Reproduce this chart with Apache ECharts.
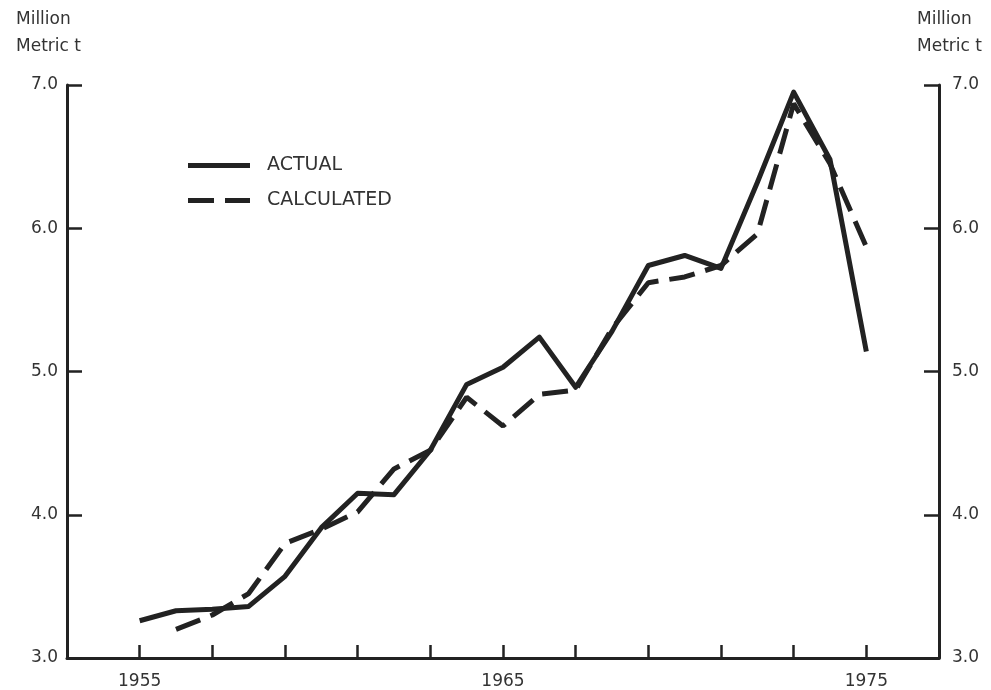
<!DOCTYPE html>
<html>
<head>
<meta charset="utf-8">
<script src="https://cdn.jsdelivr.net/npm/echarts@6/dist/echarts.min.js"></script>
<style>
html,body{margin:0;padding:0;background:#fff;}
#chart{width:991px;height:690px;}
</style>
</head>
<body>
<div id="chart"></div>
<script>
const years = [1955,1956,1957,1958,1959,1960,1961,1962,1963,1964,1965,1966,1967,1968,1969,1970,1971,1972,1973,1974,1975];
const actual = [3.26,3.33,3.34,3.36,3.57,3.91,4.15,4.14,4.45,4.91,5.03,5.24,4.89,5.28,5.74,5.81,5.72,6.32,6.95,6.48,5.14];
const calculated = [null,3.20,3.30,3.45,3.80,3.90,4.02,4.32,4.45,4.82,4.62,4.84,4.87,5.30,5.62,5.66,5.74,5.96,6.87,6.45,5.87];
const xLabels = [1955,1965,1975];
const yUnit = 'Million\nMetric t';

const FONT = 'DejaVu Sans';
const INK = '#222';
const TXT = '#333';

const chart = echarts.init(document.getElementById('chart'), null, {renderer:'canvas'});
const pairs = arr => years.map((y,i) => arr[i] == null ? null : [y, arr[i]]).filter(p => p);

const yAxisBase = {
  type:'value', min:3, max:7, interval:1,
  splitLine:{show:false},
  axisLine:{show:true, lineStyle:{color:INK, width:3}},
  axisTick:{show:true, inside:true, length:15, lineStyle:{color:INK, width:2.5}},
  axisLabel:{fontFamily:FONT, fontSize:17, color:TXT, formatter:v => v.toFixed(1)}
};

chart.setOption({
  animation:false,
  backgroundColor:'#fff',
  title:[
    {text:yUnit, left:11, top:1, textStyle:{fontFamily:FONT, fontSize:17, fontWeight:'normal', color:TXT, lineHeight:27}},
    {text:yUnit, left:912, top:1, textStyle:{fontFamily:FONT, fontSize:17, fontWeight:'normal', color:TXT, lineHeight:27}}
  ],
  grid:{left:67, right:52, top:85, bottom:32, containLabel:false},
  legend:{
    orient:'vertical', left:188, top:155, padding:0, itemWidth:62, itemHeight:5, itemGap:14,
    textStyle:{fontFamily:FONT, fontSize:19, color:TXT, padding:[0,0,0,12], lineHeight:21},
    data:[
      {name:'ACTUAL', icon:'rect'},
      {name:'CALCULATED', icon:'path://M0,0H26V5H0Z M37,0H62V5H37Z'}
    ]
  },
  xAxis:{
    type:'value', min:1953, max:1977, interval:2,
    splitLine:{show:false},
    axisLine:{show:true, lineStyle:{color:INK, width:3}},
    axisTick:{show:true, inside:true, length:13, lineStyle:{color:INK, width:2.5}},
    axisLabel:{fontFamily:FONT, fontSize:17, color:TXT, margin:15,
      formatter:v => xLabels.includes(v) ? String(v) : ''}
  },
  yAxis:[
    Object.assign({}, yAxisBase, {position:'left', axisLabel:Object.assign({}, yAxisBase.axisLabel, {margin:9})}),
    Object.assign({}, yAxisBase, {position:'right', axisLabel:Object.assign({}, yAxisBase.axisLabel, {margin:13})})
  ],
  series:[
    {name:'ACTUAL', type:'line', data:pairs(actual), symbol:'none', yAxisIndex:0,
     lineStyle:{color:INK, width:5, join:'round'}, itemStyle:{color:INK}},
    {name:'CALCULATED', type:'line', data:pairs(calculated), symbol:'none', yAxisIndex:0,
     lineStyle:{color:INK, width:5, type:[26,11]}, itemStyle:{color:INK}}
  ]
});
</script>
</body>
</html>
